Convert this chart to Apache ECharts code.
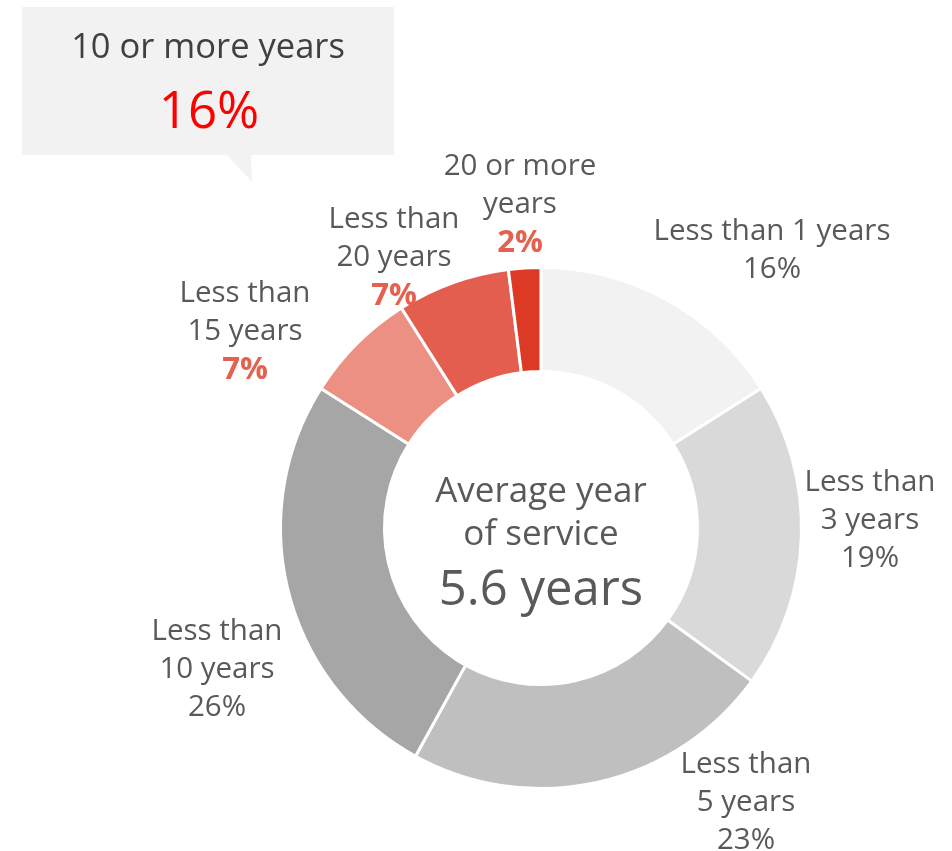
<!DOCTYPE html>
<html>
<head>
<meta charset="utf-8">
<script src="https://cdn.jsdelivr.net/npm/echarts@6/dist/echarts.min.js"></script>
<style>
  html, body { margin: 0; padding: 0; background: #ffffff; }
  #chart { width: 952px; height: 851px; }
</style>
</head>
<body>
<div id="chart"></div>
<script>
// Years-of-service breakdown (share of employees, %)
const categories = [
  'Less than 1 years',
  'Less than\n3 years',
  'Less than\n5 years',
  'Less than\n10 years',
  'Less than\n15 years',
  'Less than\n20 years',
  '20 or more\nyears'
];
const shares = [16, 19, 23, 26, 7, 7, 2];
// Bands that together make up "10 or more years"
const tenPlusBands = ['Less than\n15 years', 'Less than\n20 years', '20 or more\nyears'];
const calloutTitle = '10 or more years';
const centerTitle = ['Average year', 'of service'];
const averageYears = 5.6;

const sliceColors = ['#f2f2f2', '#d9d9d9', '#bfbfbf', '#a6a6a6', '#ed9084', '#e35e4e', '#dd3a25'];
const FONT = '"Open Sans", "Noto Sans", sans-serif';
const TEXT_GREY = '#595959';
const ACCENT = '#e5604e';

const CX = 541, CY = 528;
// label block centres, as offsets from the ring centre
const labelOffsets = [
  [231, -277], [329, -7], [205, 275], [-324, 142], [-296, -196], [-147, -270], [-21, -323]
];

const tenPlusShare = categories.reduce(
  (sum, c, i) => sum + (tenPlusBands.includes(c) ? shares[i] : 0), 0);

const chart = echarts.init(document.getElementById('chart'), null, { renderer: 'canvas' });

chart.setOption({
  backgroundColor: '#ffffff',
  animation: false,
  series: [{
    type: 'pie',
    center: [CX, CY],
    radius: [156.5, 260.5],
    startAngle: 90,
    clockwise: true,
    avoidLabelOverlap: false,
    itemStyle: { borderColor: '#ffffff', borderWidth: 3 },
    emphasis: { disabled: true },
    labelLine: { show: false },
    label: {
      show: true,
      position: 'outside',
      fontFamily: FONT,
      formatter: (p) => {
        const red = tenPlusBands.includes(p.name);
        return '{n|' + p.name.split('\n').join('}\n{n|') + '}\n' +
          (red ? '{r|' : '{p|') + p.value + '%}';
      },
      rich: {
        n: { fontFamily: FONT, fontSize: 29.5, lineHeight: 38, color: TEXT_GREY, align: 'center' },
        p: { fontFamily: FONT, fontSize: 29.5, lineHeight: 38, color: TEXT_GREY, align: 'center' },
        r: { fontFamily: FONT, fontSize: 31, lineHeight: 38, color: ACCENT, fontWeight: 'bold', align: 'center' }
      }
    },
    labelLayout: (params) => {
      const o = labelOffsets[params.dataIndex];
      return { x: CX + o[0], y: CY + o[1], align: 'center', verticalAlign: 'middle' };
    },
    data: categories.map((name, i) => ({
      name: name,
      value: shares[i],
      itemStyle: { color: sliceColors[i] }
    }))
  }],
  graphic: [
    // speech-bubble callout
    {
      type: 'rect',
      shape: { x: 22, y: 7, width: 372, height: 148 },
      style: { fill: '#f2f2f2' },
      silent: true
    },
    {
      type: 'polygon',
      shape: { points: [[226, 154], [251, 154], [252, 182]] },
      style: { fill: '#f2f2f2' },
      silent: true
    },
    {
      type: 'text',
      x: 208, y: 48,
      style: {
        text: calloutTitle, fontFamily: FONT, fontSize: 34.5, fill: '#404040',
        align: 'center', verticalAlign: 'middle'
      }
    },
    {
      type: 'text',
      x: 209, y: 113,
      style: {
        text: tenPlusShare + '%', fontFamily: FONT, fontSize: 51, fill: '#ff0000',
        align: 'center', verticalAlign: 'middle'
      }
    },
    // centre text
    {
      type: 'text',
      x: CX, y: 492,
      style: {
        text: centerTitle[0], fontFamily: FONT, fontSize: 35, fill: TEXT_GREY,
        align: 'center', verticalAlign: 'middle'
      }
    },
    {
      type: 'text',
      x: CX, y: 535,
      style: {
        text: centerTitle[1], fontFamily: FONT, fontSize: 35, fill: TEXT_GREY,
        align: 'center', verticalAlign: 'middle'
      }
    },
    {
      type: 'text',
      x: CX, y: 591,
      style: {
        text: averageYears + ' years', fontFamily: FONT, fontSize: 49, fill: TEXT_GREY,
        align: 'center', verticalAlign: 'middle'
      }
    }
  ]
});
</script>
</body>
</html>
